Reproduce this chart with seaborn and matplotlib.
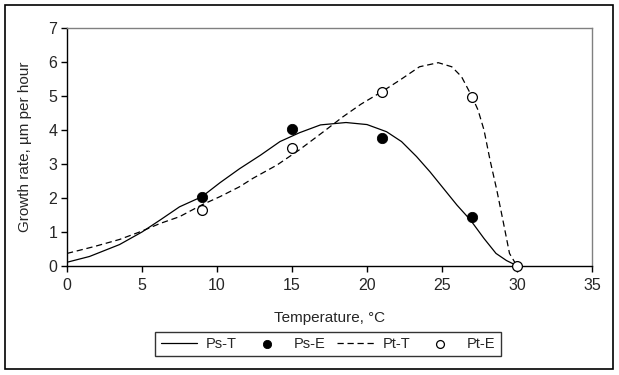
import matplotlib
matplotlib.use("Agg")
import matplotlib.pyplot as plt
import seaborn as sns
import pandas as pd
from matplotlib.patches import Rectangle

# values
ps_t_x = [0, 1.5, 3.5, 5, 6.2, 7.5, 9, 10.2, 11.5, 12.9, 14.2, 15.5, 16.9, 18.6, 20, 21.3,
          22.3, 23.3, 24.2, 25.1, 26, 26.9, 27.8, 28.6, 29.3, 29.9]
ps_t_y = [0.11, 0.28, 0.63, 1.0, 1.35, 1.74, 2.04, 2.45, 2.86, 3.26, 3.66, 3.92, 4.15, 4.22, 4.16, 3.95,
          3.66, 3.22, 2.77, 2.28, 1.79, 1.35, 0.81, 0.37, 0.16, 0.03]

pt_t_x = [0, 1.8, 3.5, 4.9, 6.2, 7.5, 9, 10.2, 11.5, 12.4, 14, 15.5, 17.1, 18.4, 19.6, 21, 22.2,
          23.5, 24.75, 25.65, 26.3, 27, 27.4, 27.8, 28.2, 28.65, 29.1, 29.5, 30]
pt_t_y = [0.37, 0.57, 0.78, 1.01, 1.25, 1.45, 1.80, 2.04, 2.33, 2.58, 2.97, 3.42, 3.95, 4.39, 4.76, 5.13, 5.47,
          5.86, 5.98, 5.86, 5.57, 4.98, 4.59, 4.0, 3.12, 2.24, 1.26, 0.37, 0.0]

ps_e_x = [9, 15, 21, 27]
ps_e_y = [2.04, 4.02, 3.77, 1.45]

pt_e_x = [9, 15, 21, 27, 30]
pt_e_y = [1.65, 3.46, 5.13, 4.98, 0.0]

sns.set_style("white")
plt.rcParams["font.family"] = ["Liberation Sans", "DejaVu Sans"]

fig = plt.figure(figsize=(6.19, 3.75), dpi=100)
ax = fig.add_axes([67 / 619, 1 - 266 / 375, 525 / 619, 238 / 375])

ps_t = pd.DataFrame({"x": ps_t_x, "y": ps_t_y})
pt_t = pd.DataFrame({"x": pt_t_x, "y": pt_t_y})
ps_e = pd.DataFrame({"x": ps_e_x, "y": ps_e_y})
pt_e = pd.DataFrame({"x": pt_e_x, "y": pt_e_y})

sns.lineplot(data=ps_t, x="x", y="y", ax=ax, color="black", lw=0.9, sort=False, label="Ps-T")
sns.scatterplot(data=ps_e, x="x", y="y", ax=ax, color="black", s=55, edgecolor="black", label="Ps-E", zorder=3)
sns.lineplot(data=pt_t, x="x", y="y", ax=ax, color="black", lw=0.9, sort=False, label="Pt-T",
             linestyle=(0, (5, 3)))
sns.scatterplot(data=pt_e, x="x", y="y", ax=ax, facecolor="white", s=50, edgecolor="black", linewidth=0.9,
                label="Pt-E", zorder=4, clip_on=False)

ax.set_xlim(0, 35)
ax.set_ylim(0, 7)
ax.set_xticks(range(0, 36, 5))
ax.set_yticks(range(0, 8))
ax.tick_params(axis="both", labelsize=11.5, length=4, width=1, direction="out", color="black",
               bottom=True, left=True)
ax.tick_params(axis="x", pad=5)
ax.tick_params(axis="y", pad=3)
for side in ["top", "right"]:
    ax.spines[side].set_color("#808080")
    ax.spines[side].set_linewidth(1)
for side in ["left", "bottom"]:
    ax.spines[side].set_color("black")
    ax.spines[side].set_linewidth(1)

ax.set_xlabel("Temperature, °C", fontsize=11)
ax.set_ylabel("Growth rate, µm per hour", fontsize=11)
ax.xaxis.set_label_coords(0.5, -0.19)
ax.yaxis.set_label_coords(-0.066, 0.5)

handles, labels = ax.get_legend_handles_labels()
ax.legend_.remove()
leg = fig.legend(handles, labels, loc="center", bbox_to_anchor=(328 / 619, 1 - 344 / 375), ncol=4,
                 frameon=True, fancybox=False, edgecolor="black", fontsize=10.5, handlelength=2.5,
                 columnspacing=0.8, handletextpad=0.6, borderpad=0.35, markerscale=0.8)
leg.get_frame().set_linewidth(1)

fig.patches.append(Rectangle((5 / 619, 6 / 375), 608 / 619, 364 / 375, transform=fig.transFigure,
                             fill=False, edgecolor="black", lw=1.2))

fig.savefig("out.png", dpi=100)
